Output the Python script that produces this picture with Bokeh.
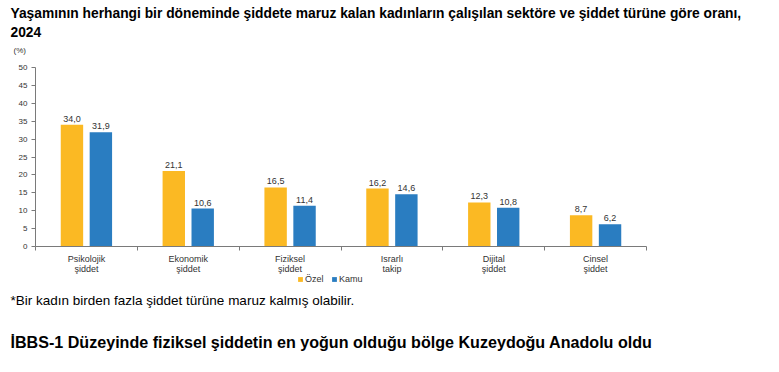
from bokeh.plotting import figure
from bokeh.models import (ColumnDataSource, FixedTicker, Label, Legend, LegendItem)
from bokeh.transform import dodge
from bokeh.core.properties import value
from bokeh.embed import file_html
from bokeh.resources import INLINE

# ---- data ----
categories = ["Psikolojik\nşiddet", "Ekonomik\nşiddet", "Fiziksel\nşiddet",
              "Israrlı\ntakip", "Dijital\nşiddet", "Cinsel\nşiddet"]
ozel = [34.0, 21.1, 16.5, 16.2, 12.3, 8.7]
kamu = [31.9, 10.6, 11.4, 14.6, 10.8, 6.2]
series_names = ["Özel", "Kamu"]
y_ticks = [0, 5, 10, 15, 20, 25, 30, 35, 40, 45, 50]

title_line1 = "Yaşamının herhangi bir döneminde şiddete maruz kalan kadınların çalışılan sektöre ve şiddet türüne göre oranı,"
title_line2 = "2024"
unit_label = "(%)"
footnote = "*Bir kadın birden fazla şiddet türüne maruz kalmış olabilir."
heading = "İBBS-1 Düzeyinde fiziksel şiddetin en yoğun olduğu bölge Kuzeydoğu Anadolu oldu"

ORANGE = "#FBB923"
BLUE = "#2A7DC1"
FONT = "Liberation Sans"

def fmt(v):
    return f"{v:.1f}".replace(".", ",")

n = len(categories)
centers = [i + 0.5 for i in range(n)]
src = ColumnDataSource(dict(
    x=centers, ozel=ozel, kamu=kamu,
    ozel_lbl=[fmt(v) for v in ozel], kamu_lbl=[fmt(v) for v in kamu],
))

# canvas and where the chart area sits on it (pixels)
W, H = 763, 356
AX_L, AX_R, AX_T, AX_B = 35, 646, 67, 246
YMAX = y_ticks[-1]
sx = (AX_R - AX_L) / n
sy = (AX_B - AX_T) / YMAX
x_range = (-AX_L / sx, (W - AX_L) / sx)
y_range = (-(H - AX_B) / sy, AX_B / sy)

p = figure(width=W, height=H, x_range=x_range, y_range=y_range,
           output_backend="svg", toolbar_location=None,
           min_border=0, min_border_left=0, min_border_right=0,
           min_border_top=0, min_border_bottom=0)
p.outline_line_color = None
p.grid.grid_line_color = None
p.background_fill_color = "white"
p.border_fill_color = "white"

r1 = p.vbar(x=dodge("x", -0.142, range=p.x_range), top="ozel", width=0.22,
            source=src, fill_color=ORANGE, line_color=None)
r2 = p.vbar(x=dodge("x", 0.142, range=p.x_range), top="kamu", width=0.22,
            source=src, fill_color=BLUE, line_color=None)

p.text(x=dodge("x", -0.142, range=p.x_range), y="ozel", text="ozel_lbl", source=src,
       text_align="center", text_baseline="bottom", y_offset=-3,
       text_font=value(FONT), text_font_size="9px", text_color="#333333")
p.text(x=dodge("x", 0.142, range=p.x_range), y="kamu", text="kamu_lbl", source=src,
       text_align="center", text_baseline="bottom", y_offset=-3,
       text_font=value(FONT), text_font_size="9px", text_color="#333333")

# x axis: labels at centres, separators as minor ticks at boundaries
xa = p.xaxis[0]
xa.fixed_location = 0
xa.bounds = (0, n)
xa.ticker = FixedTicker(ticks=centers, minor_ticks=list(range(n + 1)))
xa.major_label_overrides = {c: lab for c, lab in zip(centers, categories)}
xa.major_tick_out = 0
xa.major_tick_in = 0
xa.minor_tick_out = 4
xa.minor_tick_in = 0
xa.minor_tick_line_color = "#7a7a7a"
xa.axis_line_color = "#7a7a7a"
xa.major_label_text_font = FONT
xa.major_label_text_font_size = "9px"
xa.major_label_text_line_height = 1.05
xa.major_label_text_color = "#333333"
xa.major_label_standoff = 3

ya = p.yaxis[0]
ya.fixed_location = 0
ya.bounds = (0, YMAX)
ya.ticker = FixedTicker(ticks=y_ticks)
ya.major_tick_out = 4
ya.major_tick_in = 0
ya.minor_tick_out = 0
ya.minor_tick_in = 0
ya.major_tick_line_color = "#7a7a7a"
ya.axis_line_color = "#7a7a7a"
ya.major_label_text_font = FONT
ya.major_label_text_font_size = "8px"
ya.major_label_text_color = "#333333"
ya.major_label_standoff = 4

legend = Legend(items=[LegendItem(label=series_names[0], renderers=[r1]),
                       LegendItem(label=series_names[1], renderers=[r2])],
                orientation="horizontal", location=(297, H - 284),
                glyph_width=6, glyph_height=6, label_standoff=2, spacing=6,
                padding=0, margin=0, border_line_color=None,
                background_fill_alpha=0, label_text_font=FONT,
                label_text_font_size="9px", label_text_color="#333333",
                label_height=10)
p.add_layout(legend, "center")

def lab(text, page_x, page_y, size, bold=False, color="#000000"):
    p.add_layout(Label(x=page_x, y=H - page_y,
                       x_units="screen", y_units="screen",
                       text=text, text_font=FONT, text_font_size=size,
                       text_font_style="bold" if bold else "normal",
                       text_color=color, text_baseline="middle"))

lab(title_line1, 10, 13, "13.8px", bold=True)
lab(title_line2, 10, 31, "13.8px", bold=True)
lab(unit_label, 13, 50, "8px", color="#333333")
lab(footnote, 10, 300, "13.5px")
lab(heading, 10, 341, "16.1px", bold=True)

open("out.html", "w").write(file_html(p, INLINE))
